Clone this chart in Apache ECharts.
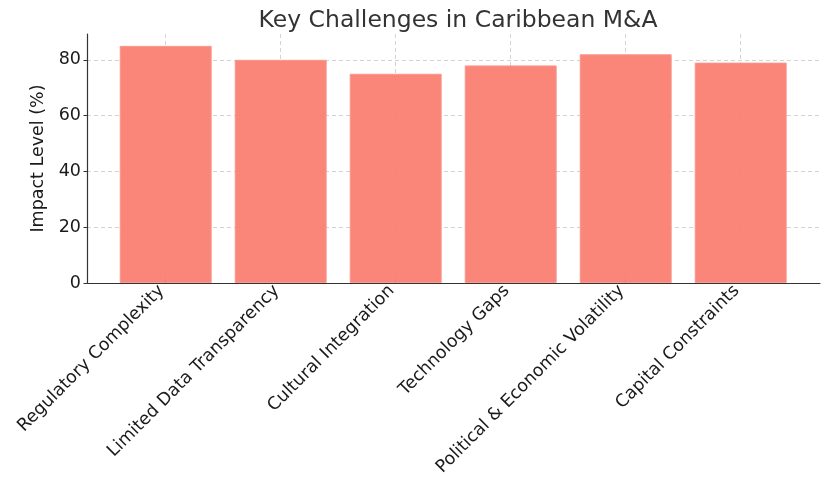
<!DOCTYPE html>
<html><head><meta charset="utf-8">
<script src="https://cdn.jsdelivr.net/npm/echarts@6/dist/echarts.min.js"></script>
<style>html,body{margin:0;padding:0;background:#fff}#c{width:830px;height:479px}</style>
</head><body><div id="c"></div>
<script>
const categories = ["Regulatory Complexity","Limited Data Transparency","Cultural Integration","Technology Gaps","Political & Economic Volatility","Capital Constraints"];
const impact = [85, 80, 75, 78, 82, 79];
const titleText = "Key Challenges in Caribbean M&A";
const yName = "Impact Level (%)";

const FONT = "DejaVu Sans";
const FS = 17.5;
const TOP = 34, BOTTOM = 479 - 283;
const YMAX = 89.25;
const chart = echarts.init(document.getElementById('c'), null, {renderer:'canvas'});
const grid = (l, r) => ({left:l, right:r, top:TOP, bottom:BOTTOM, containLabel:false});
const hiddenY = i => ({type:'value', gridIndex:i, min:0, max:YMAX, show:false});
chart.setOption({
  animation:false,
  backgroundColor:'#fff',
  title:{text:titleText, left:453, top:4, textAlign:'center',
    textStyle:{fontFamily:FONT, fontSize:23.5, fontWeight:'normal', color:'#333'}},
  grid:[grid(87,10), grid(165.7,89.3), grid(108.2,31.8), grid(104.2,35.8)],
  xAxis:[
    {type:'value', gridIndex:0, min:0, max:1, axisLine:{show:true, onZero:false, lineStyle:{color:'#333', width:1.2}},
     axisTick:{show:false}, axisLabel:{show:false}, splitLine:{show:false}},
    {type:'value', gridIndex:1, min:0, max:5, interval:1, axisLine:{show:false}, axisTick:{show:false}, axisLabel:{show:false},
     splitLine:{show:true, lineStyle:{color:'#c8c8c8', type:[4,3], width:0.8}}},
    {type:'category', gridIndex:2, data:categories, boundaryGap:true,
     axisLine:{show:false}, axisTick:{show:true, alignWithLabel:true, inside:true, length:4, lineStyle:{color:'#333'}},
     splitLine:{show:false}, axisLabel:{show:false}},
    {type:'category', gridIndex:3, data:categories, boundaryGap:true,
     axisLine:{show:false}, axisTick:{show:false}, splitLine:{show:false},
     axisLabel:{rotate:45, interval:0, margin:5, fontFamily:FONT, fontSize:FS, color:'#1a1a1a'}}
  ],
  yAxis:[
    {type:'value', gridIndex:0, min:0, max:YMAX, interval:20,
     name:yName, nameLocation:'middle', nameGap:36, nameRotate:90,
     nameTextStyle:{fontFamily:FONT, fontSize:FS, color:'#1a1a1a'},
     axisLine:{show:true, lineStyle:{color:'#333', width:1.2}},
     axisTick:{show:true, inside:false, length:3.5, lineStyle:{color:'#333'}},
     axisLabel:{fontFamily:FONT, fontSize:FS, color:'#1a1a1a', margin:6, showMaxLabel:false},
     splitLine:{show:true, showMaxLine:false, lineStyle:{color:'#c8c8c8', type:[4,3], width:0.8}}},
    hiddenY(1), hiddenY(2), hiddenY(3)
  ],
  series:[{type:'bar', xAxisIndex:2, yAxisIndex:2, data:impact, barWidth:'80%', z:1,
    itemStyle:{color:'rgba(250,128,114,0.95)', borderColor:'rgba(250,150,140,0.9)', borderWidth:1}}]
});
</script></body></html>
